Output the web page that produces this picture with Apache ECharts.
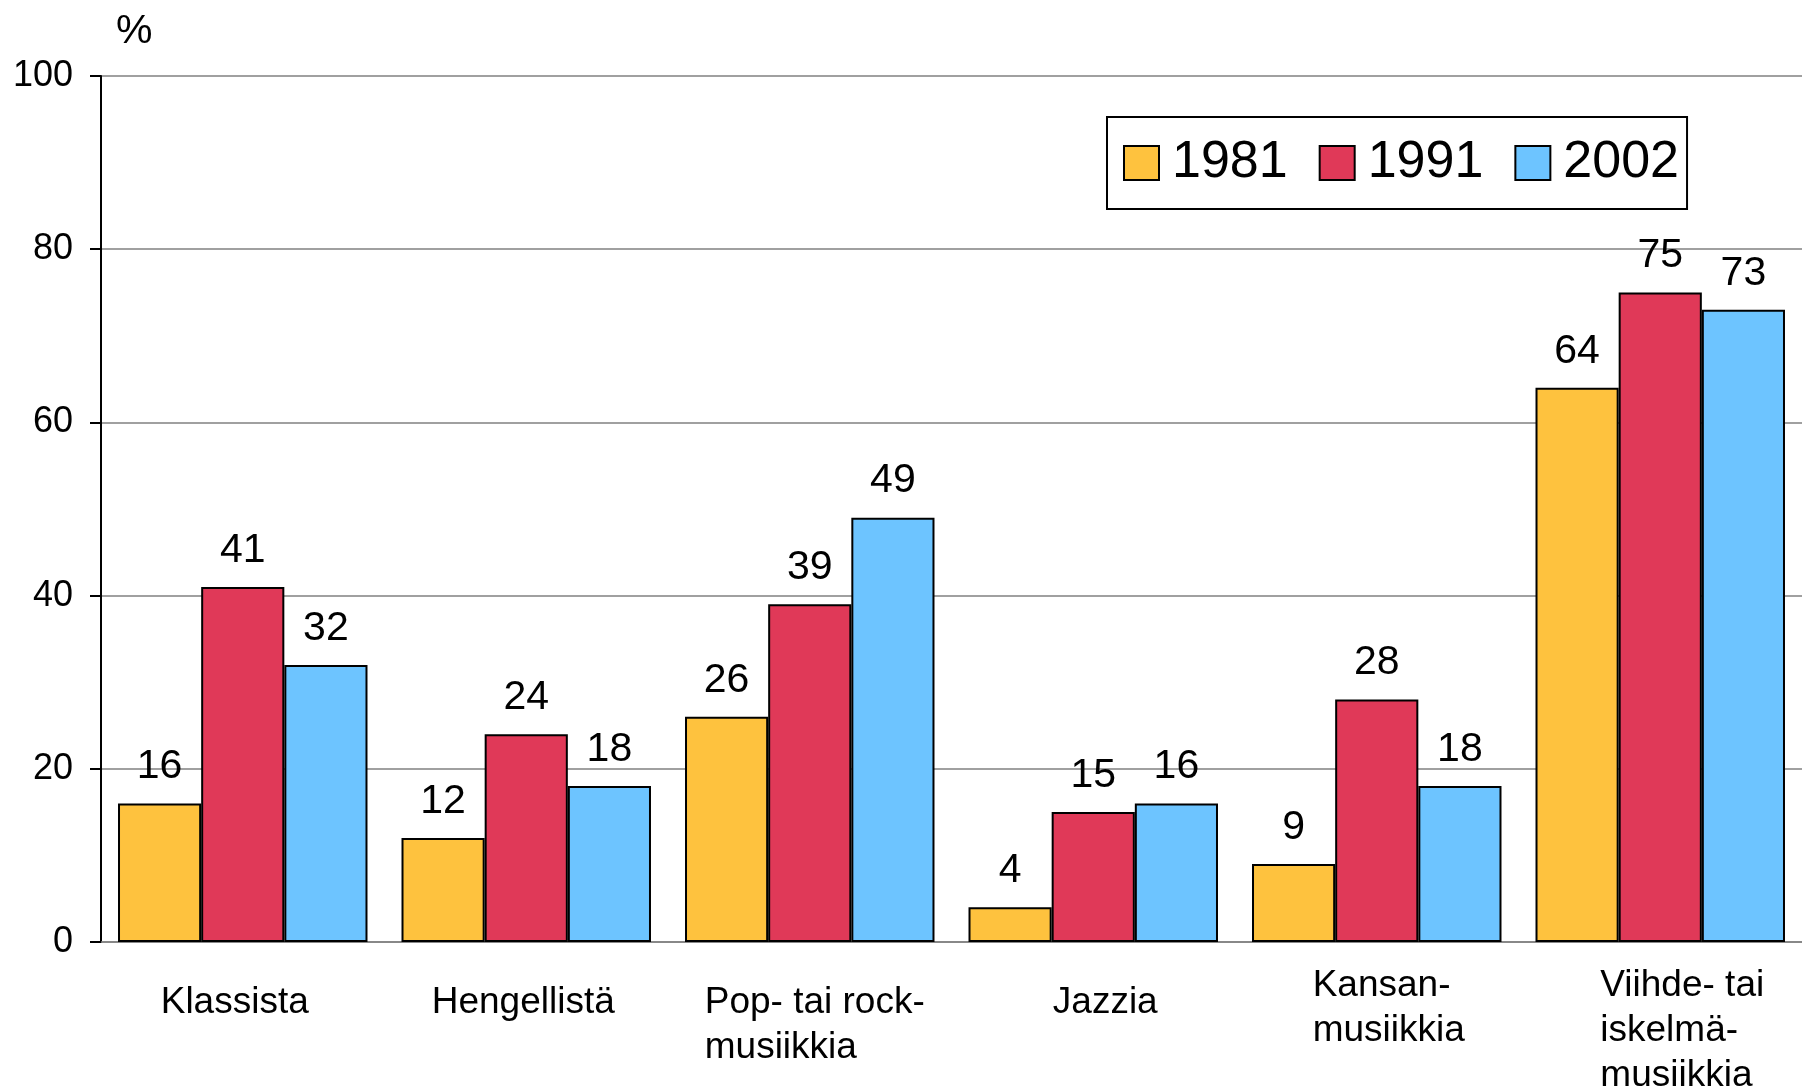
<!DOCTYPE html>
<html>
<head>
<meta charset="utf-8">
<title>Musiikki</title>
<script src="https://cdn.jsdelivr.net/npm/echarts@6/dist/echarts.min.js"></script>
<style>
    html, body { margin: 0; padding: 0; background: #fff; }
    #chart { width: 1802px; height: 1089px; }
</style>
</head>
<body>
<div id="chart"></div>
<script>
// kategoriat (x-akseli)
let categories = ['Klassista', 'Hengellistä', 'Pop- tai rock-\nmusiikkia', 'Jazzia', 'Kansan-\nmusiikkia', 'Viihde- tai\niskelmä-\nmusiikkia'];
let years = ['1981', '1991', '2002'];
let data_1981 = [16, 12, 26, 4, 9, 64];
let data_1991 = [41, 24, 39, 15, 28, 75];
let data_2002 = [32, 18, 49, 16, 18, 73];
let colors = ['#FEC23E', '#E03958', '#6DC4FF'];

let font = "'Liberation Sans', Arial, sans-serif";

let chart = echarts.init(document.getElementById('chart'));

// nimikkeiden pieni siirto kuten alkuperäisessä (vaaka) ja kaksi nostettua (pysty)
let labelShift = [-8, -3, 5, 12, 12, 22];
let raised = [4, 5];
let xData = categories.map((c, i) => {
    let s = labelShift[i];
    return {
        value: c,
        textStyle: {
            padding: [raised.includes(i) ? 0 : 17, s < 0 ? -2 * s : 0, 0, s > 0 ? 2 * s : 0]
        }
    };
});

function makeSeries(name, values, color) {
    return {
        name: name,
        type: 'bar',
        data: values,
        barGap: '0%',
        barCategoryGap: '12%',
        itemStyle: { color: color, borderColor: '#000', borderWidth: 2 },
        label: {
            show: true,
            position: 'top',
            distance: 16,
            color: '#000',
            fontSize: 41,
            fontFamily: font
        }
    };
}

let option = {
    animation: false,
    backgroundColor: '#fff',
    title: {
        text: '%',
        left: 111,
        top: 6,
        textStyle: { fontSize: 41, fontWeight: 'normal', color: '#000', fontFamily: font }
    },
    legend: {
        data: years,
        left: 1107,
        top: 117,
        orient: 'horizontal',
        itemWidth: 35,
        itemHeight: 34,
        itemGap: 31,
        padding: [20, 8, 20, 16],
        borderColor: '#000',
        borderWidth: 2,
        icon: 'rect',
        itemStyle: { borderColor: '#000', borderWidth: 2 },
        textStyle: { fontSize: 52, lineHeight: 52, color: '#000', fontFamily: font, padding: [0, 0, 0, 8] }
    },
    grid: {
        left: 101,
        top: 76,
        right: 0,
        bottom: 147,
        outerBoundsMode: 'none',
        containLabel: false
    },
    xAxis: {
        type: 'category',
        data: xData,
        axisLine: { lineStyle: { color: '#808080', width: 1.5 } },
        axisTick: { show: false },
        axisLabel: {
            interval: 0,
            margin: 21,
            verticalAlign: 'top',
            color: '#000',
            fontSize: 37,
            lineHeight: 45,
            fontFamily: font,
            formatter: function (v) {
                return v.split('\n').map(l => '{l|' + l + '}').join('\n');
            },
            rich: {
                l: { align: 'left', fontSize: 37, lineHeight: 45, fontFamily: font, color: '#000' }
            }
        }
    },
    yAxis: {
        type: 'value',
        min: 0,
        max: 100,
        interval: 20,
        axisLine: { show: true, lineStyle: { color: '#000', width: 2 } },
        axisTick: { show: true, length: 11, lineStyle: { color: '#000', width: 2 } },
        axisLabel: { margin: 28, color: '#000', fontSize: 36, fontFamily: font },
        splitLine: { show: true, lineStyle: { color: '#808080', width: 1.5 } }
    },
    series: [
        makeSeries(years[0], data_1981, colors[0]),
        makeSeries(years[1], data_1991, colors[1]),
        makeSeries(years[2], data_2002, colors[2])
    ]
};

chart.setOption(option);
</script>
</body>
</html>
